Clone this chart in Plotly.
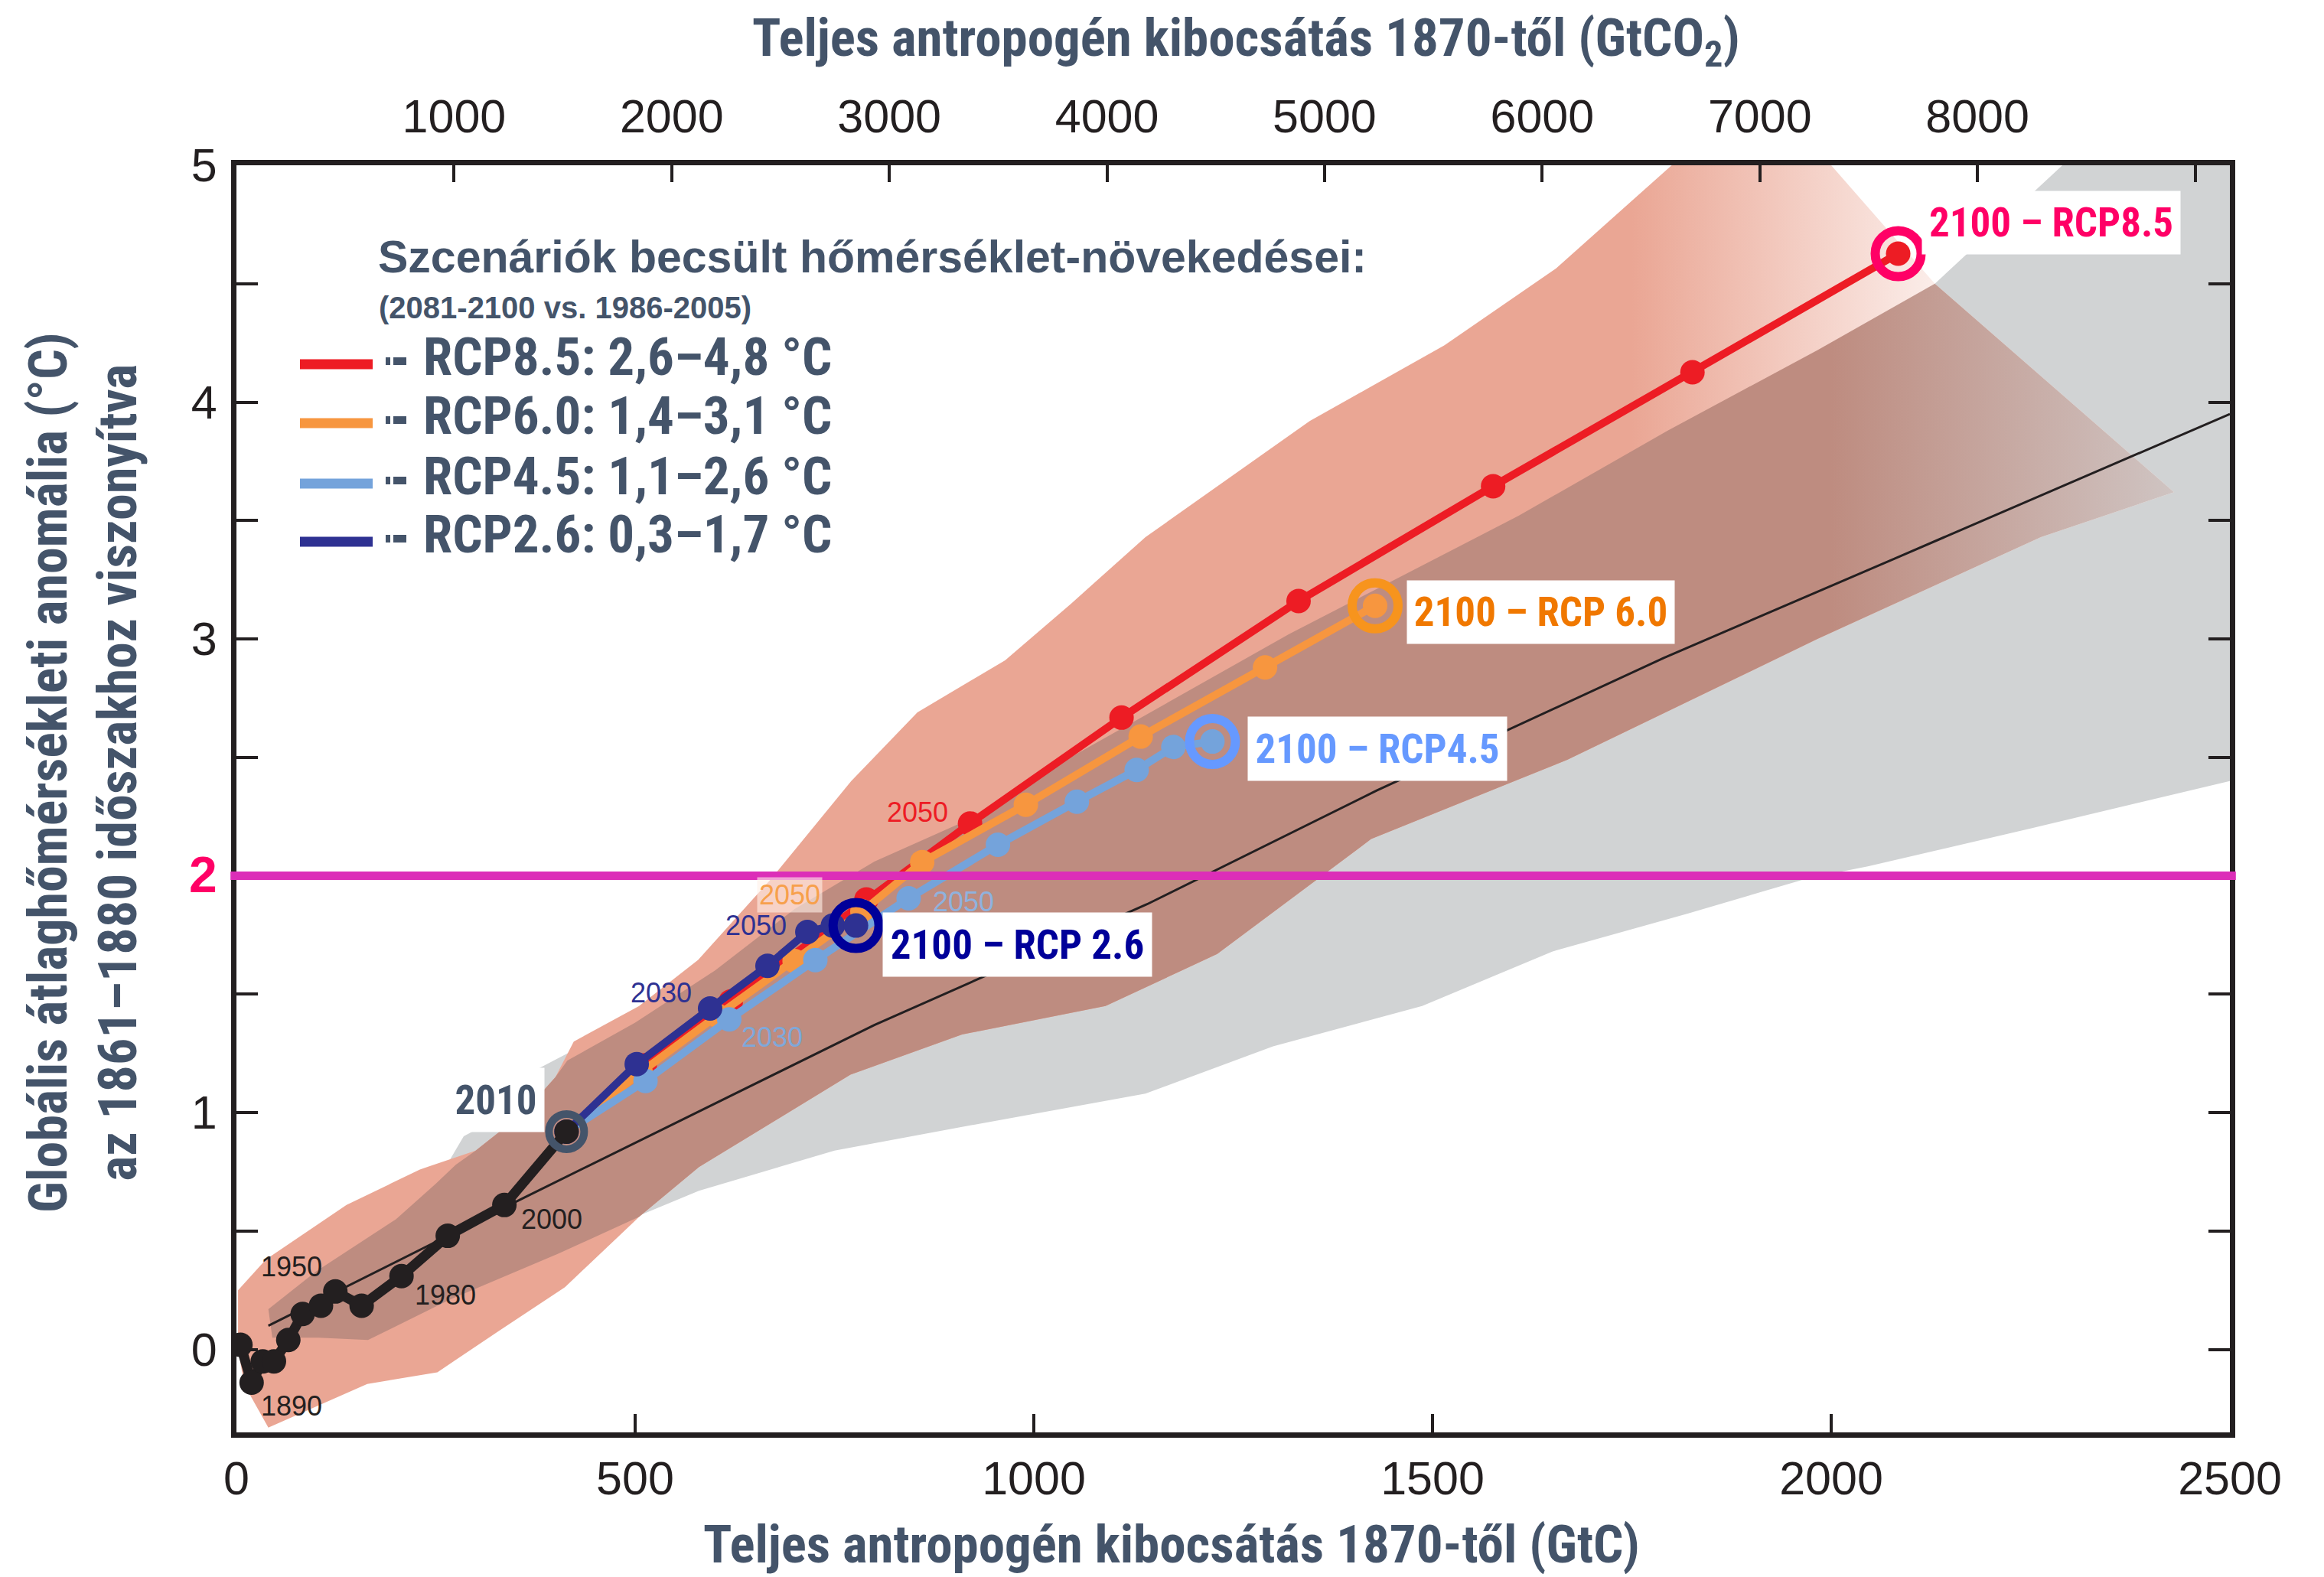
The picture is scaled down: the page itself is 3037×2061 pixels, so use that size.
import plotly.graph_objects as go

# ---------------- figure geometry (pixels) ----------------
W, H = 3037, 2061
L, R, T, B = 309, 123, 216, 189
PW, PH = W - L - R, H - T - B


def px(xp):
    return (xp - L) / PW


def py(yp):
    return (H - B - yp) / PH


# ---------------- data ----------------
GTC_TO_GTCO2 = 3.664
X_RANGE = [0, 2500]
Y_RANGE = [-0.35, 5.0]

x_ticks = [0, 500, 1000, 1500, 2000, 2500]
x2_ticks = [1000, 2000, 3000, 4000, 5000, 6000, 7000, 8000]
x2_minor = [9000]
y_ticks = [0, 1, 2, 3, 4, 5]
y_labels = ["0", "1",
            '<span style="color:#FF0066;font-size:66px"><b>2</b></span>',
            "3", "4", "5"]
y_minor = [0.5, 1.5, 2.5, 3.5, 4.5]

hist_x = [5, 19, 33, 47, 65, 83, 106, 124, 157, 207, 265, 336, 414]
hist_y = [0.02, -0.14, -0.05, -0.05, 0.04, 0.15, 0.185, 0.245, 0.185, 0.31, 0.48, 0.61, 0.92]

rcp26_x = [414, 502, 594, 666, 716, 748, 777]
rcp26_y = [0.92, 1.205, 1.44, 1.62, 1.763, 1.79, 1.79]
rcp45_x = [414, 513, 618, 726, 843, 955, 1054, 1129, 1175, 1224]
rcp45_y = [0.92, 1.134, 1.394, 1.644, 1.905, 2.131, 2.313, 2.447, 2.544, 2.567]
rcp60_x = [414, 507, 603, 700, 785, 860, 990, 1134, 1290, 1428]
rcp60_y = [0.92, 1.17, 1.41, 1.64, 1.85, 2.058, 2.30, 2.588, 2.88, 3.14]
rcp85_x = [414, 512, 620, 790, 920, 1110, 1332, 1576, 1826, 2084]
rcp85_y = [0.92, 1.20, 1.47, 1.90, 2.221, 2.668, 3.16, 3.645, 4.126, 4.627]

mean_x = [40, 360, 800, 1142, 1430, 1790, 2080, 2500]
mean_y = [0.10, 0.64, 1.37, 1.88, 2.36, 2.92, 3.34, 3.95]

gray_x = [15, 40, 100, 200, 250, 285, 340, 375, 415, 500, 600, 700, 800, 920, 1046, 1320,
          1608, 1795, 1983, 2130, 2290, 2500, 2500, 2250, 2046, 1971, 1820, 1650, 1487,
          1300, 1140, 910, 750, 580, 480, 404, 267, 165, 45]
gray_y = [-0.05, 0.17, 0.33, 0.55, 0.70, 0.90, 1.00, 1.18, 1.25, 1.38, 1.60, 1.86, 2.06,
          2.24, 2.50, 3.02, 3.52, 3.88, 4.22, 4.50, 5.0, 5.0, 2.40, 2.20, 2.04, 1.99, 1.84,
          1.68, 1.45, 1.28, 1.08, 0.94, 0.84, 0.67, 0.53, 0.405, 0.21, 0.04, 0.02]

salmon_x = [40, 10, 2, 2, 37, 138, 230, 300, 360, 400, 423, 505, 579, 670, 771, 854, 964,
            1047, 1140, 1346, 1515, 1655, 1800, 2000, 2130, 2430, 2263, 1983, 1669, 1423,
            1230, 1090, 910, 770, 580, 505, 494, 412, 329, 252, 164]
salmon_y = [-0.33, -0.15, 0.0, 0.25, 0.38, 0.61, 0.76, 0.84, 1.00, 1.15, 1.30, 1.45, 1.645,
            1.985, 2.40, 2.69, 2.91, 3.15, 3.43, 3.92, 4.24, 4.565, 5.0, 5.0, 4.50, 3.62,
            3.43, 3.0, 2.49, 2.155, 1.67, 1.45, 1.33, 1.16, 0.77, 0.56, 0.525, 0.263, 0.078,
            -0.096, -0.146]

brown_x = [40, 100, 200, 250, 275, 300, 360, 400, 415, 500, 600, 700, 800, 920, 1046, 1320,
           1608, 1795, 1983, 2130, 2430, 2263, 1983, 1669, 1423, 1230, 1090, 910, 770, 580,
           505, 404, 267, 165, 103, 45]
brown_y = [0.17, 0.33, 0.55, 0.70, 0.78, 0.84, 1.00, 1.15, 1.22, 1.38, 1.60, 1.86, 2.06,
           2.24, 2.50, 3.02, 3.52, 3.88, 4.22, 4.50, 3.62, 3.43, 3.0, 2.49, 2.155, 1.67,
           1.45, 1.33, 1.16, 0.77, 0.56, 0.405, 0.21, 0.04, 0.05, 0.05]

year_labels = [
    ("1890", 69, -0.24, "#231F20"),
    ("1950", 69, 0.35, "#231F20"),
    ("1980", 262, 0.23, "#231F20"),
    ("2000", 395, 0.55, "#231F20"),
    ("2030", 533, 1.506, "#2E3192"),
    ("2050", 652, 1.79, "#2E3192"),
    ("2030", 672, 1.32, "#7FA8DA"),
    ("2050", 912, 1.89, "#8FB2DE"),
    ("2050", 854, 2.27, "#ED1C24"),
]

end_labels = [
    ("2010", 325.3, 1.054, "#44546A", 126, 83),
    ("2100 – RCP8.5", 2276, 4.758, "#FF0066", 337, 82),
    ("2100 – RCP 6.0", 1635.8, 3.113, "#F07800", 349, 82),
    ("2100 – RCP4.5", 1430.9, 2.537, "#6699FF", 338, 83),
    ("2100 – RCP 2.6", 979.4, 1.710, "#000099", 351, 83),
]

legend_names = ["RCP8.5: 2,6–4,8 °C", "RCP6.0: 1,4–3,1 °C",
                "RCP4.5: 1,1–2,6 °C", "RCP2.6: 0,3–1,7 °C"]
legend_colors = ["#ED1C24", "#F7963F", "#74A3DB", "#2E3192"]

SLATE = "#44546A"
INK = "#231F20"
COND = "Roboto, Liberation Sans, sans-serif"
REG = "Liberation Sans, Arial, sans-serif"


def cond(t):
    return '<span style="font-stretch:condensed"><b>' + t + "</b></span>"


fig = go.Figure()


def poly(xs, ys, color, grad=None):
    kw = dict(x=xs + xs[:1], y=ys + ys[:1], fill="toself", mode="lines",
              line=dict(width=0), fillcolor=color, hoverinfo="skip", showlegend=False)
    if grad is not None:
        kw["fillgradient"] = grad
    fig.add_trace(go.Scatter(**kw))


poly(gray_x, gray_y, "#D1D3D4")
poly(salmon_x, salmon_y, "#EAA694",
     dict(type="horizontal", start=1750, stop=2150,
          colorscale=[[0, "#EAA694"], [1, "#FCF1EE"]]))
poly(brown_x, brown_y, "#BE8C80",
     dict(type="horizontal", start=2000, stop=2430,
          colorscale=[[0, "#BE8C80"], [1, "#CFC4C2"]]))

fig.add_trace(go.Scatter(x=mean_x, y=mean_y, mode="lines",
                         line=dict(color=INK, width=3), hoverinfo="skip", showlegend=False))

series = [
    (rcp85_x, rcp85_y, "#ED1C24"),
    (rcp60_x, rcp60_y, "#F7963F"),
    (rcp45_x, rcp45_y, "#74A3DB"),
    (rcp26_x, rcp26_y, "#2E3192"),
]
for xs, ys, c in series:
    fig.add_trace(go.Scatter(x=xs, y=ys, mode="lines+markers",
                             line=dict(color=c, width=10),
                             marker=dict(color=c, size=32),
                             hoverinfo="skip", showlegend=False))

fig.add_trace(go.Scatter(x=hist_x, y=hist_y, mode="lines+markers",
                         line=dict(color=INK, width=13),
                         marker=dict(color=INK, size=32),
                         hoverinfo="skip", showlegend=False))

rings = [
    (hist_x[-1], hist_y[-1], "#44546A", 46, 10),
    (rcp85_x[-1], rcp85_y[-1], "#FF0066", 60, 12),
    (rcp60_x[-1], rcp60_y[-1], "#F7941D", 60, 12),
    (rcp45_x[-1], rcp45_y[-1], "#6699FF", 60, 12),
    (rcp26_x[-1], rcp26_y[-1], "#000099", 60, 12),
]
for x, y, c, s, w in rings:
    fig.add_trace(go.Scatter(x=[x], y=[y], mode="markers",
                             marker=dict(symbol="circle-open", size=s, color=c,
                                         line=dict(width=w, color=c)),
                             hoverinfo="skip", showlegend=False))

# invisible helper so the top (GtCO2) axis is drawn
fig.add_trace(go.Scatter(x=[v * GTC_TO_GTCO2 for v in X_RANGE], y=[Y_RANGE[0]] * 2,
                         xaxis="x2", mode="markers", marker=dict(opacity=0),
                         hoverinfo="skip", showlegend=False))

ann = []
for t, x, y, c in year_labels:
    ann.append(dict(x=x, y=y, xref="x", yref="y", text=t, showarrow=False,
                    font=dict(family=REG, size=36, color=c)))
ann.append(dict(x=694, y=1.92, xref="x", yref="y", text="2050", showarrow=False,
                bgcolor="rgba(255,240,232,0.6)", borderpad=2,
                font=dict(family=REG, size=36, color="#F7A04B")))
for t, x, y, c, bw, bh in end_labels:
    ann.append(dict(x=x, y=y, xref="x", yref="y", text=cond(t), showarrow=False,
                    bgcolor="white", borderpad=0, width=bw, height=bh,
                    font=dict(family=COND, size=53, color=c)))

ann.append(dict(x=px(1628), y=py(54), xref="paper", yref="paper", showarrow=False,
                xanchor="center", yanchor="middle",
                text=cond("Teljes antropogén kibocsátás 1870-től (GtCO<sub>2</sub>)"),
                font=dict(family=COND, size=69, color=SLATE)))
ann.append(dict(x=px(1531), y=py(2018), xref="paper", yref="paper", showarrow=False,
                xanchor="center", yanchor="middle",
                text=cond("Teljes antropogén kibocsátás 1870-től (GtC)"),
                font=dict(family=COND, size=69, color=SLATE)))
ann.append(dict(x=px(108), y=py(1010), xref="paper", yref="paper", showarrow=False,
                xanchor="center", yanchor="middle", textangle=-90,
                text=cond("Globális átlaghőmérsékleti anomália (°C)") + "<br>"
                + cond("az 1861–1880 időszakhoz viszonyítva"),
                font=dict(family=COND, size=70, color=SLATE)))

ann.append(dict(x=px(492), y=py(336), xref="paper", yref="paper", showarrow=False,
                xanchor="left", yanchor="middle",
                text="<b>Szcenáriók becsült hőmérséklet-növekedései:</b>",
                font=dict(family=REG, size=59, color=SLATE)))
ann.append(dict(x=px(493), y=py(402), xref="paper", yref="paper", showarrow=False,
                xanchor="left", yanchor="middle",
                text="<b>(2081-2100 vs. 1986-2005)</b>",
                font=dict(family=REG, size=40, color=SLATE)))

shapes = []
leg_text_y = [466, 543, 622, 698]
for i, (name, col) in enumerate(zip(legend_names, legend_colors)):
    ty = leg_text_y[i]
    ann.append(dict(x=px(551), y=py(ty), xref="paper", yref="paper", showarrow=False,
                    xanchor="left", yanchor="middle", text=cond(name),
                    font=dict(family=COND, size=69, color=SLATE)))
    by = ty + 10
    shapes.append(dict(type="rect", xref="paper", yref="paper",
                       x0=px(392), x1=px(487), y0=py(by - 6.5), y1=py(by + 6.5),
                       fillcolor=col, line=dict(width=0), layer="above"))
    for a, b in [(504, 510), (514, 531)]:
        shapes.append(dict(type="rect", xref="paper", yref="paper",
                           x0=px(a), x1=px(b), y0=py(by - 9), y1=py(by + 1),
                           fillcolor=SLATE, line=dict(width=0), layer="above"))

shapes.append(dict(type="line", xref="paper", yref="y", x0=-0.003, x1=1.003, y0=2, y1=2,
                   line=dict(color="#DC2EB8", width=11), layer="above"))

fig.update_layout(
    width=W, height=H,
    margin=dict(l=L, r=R, t=T, b=B, pad=0),
    paper_bgcolor="white", plot_bgcolor="white",
    showlegend=False,
    annotations=ann, shapes=shapes,
    xaxis=dict(range=X_RANGE, tickvals=x_ticks, ticktext=[str(v) for v in x_ticks],
               ticks="inside", ticklen=24, tickwidth=4, tickcolor=INK,
               showline=True, linewidth=7, linecolor=INK, showgrid=False, zeroline=False,
               tickfont=dict(family=REG, size=61, color=INK), ticklabelstandoff=1),
    xaxis2=dict(range=[X_RANGE[0] * GTC_TO_GTCO2, X_RANGE[1] * GTC_TO_GTCO2],
                overlaying="x", side="top", anchor="y",
                tickvals=x2_ticks, ticktext=[str(v) for v in x2_ticks],
                ticks="inside", ticklen=22, tickwidth=4, tickcolor=INK,
                minor=dict(tickvals=x2_minor, ticks="inside", ticklen=22, tickwidth=4,
                           tickcolor=INK, showgrid=False),
                showline=True, linewidth=7, linecolor=INK, showgrid=False, zeroline=False,
                tickfont=dict(family=REG, size=61, color=INK), ticklabelstandoff=12),
    yaxis=dict(range=Y_RANGE, tickvals=y_ticks, ticktext=y_labels,
               ticks="inside", ticklen=28, tickwidth=4, tickcolor=INK, mirror="ticks",
               minor=dict(tickvals=y_minor, ticks="inside", ticklen=28, tickwidth=4,
                          tickcolor=INK, showgrid=False),
               showline=True, linewidth=7, linecolor=INK, showgrid=False, zeroline=False,
               tickfont=dict(family=REG, size=61, color=INK), ticklabelstandoff=6),
)

fig.write_html("out.html")
